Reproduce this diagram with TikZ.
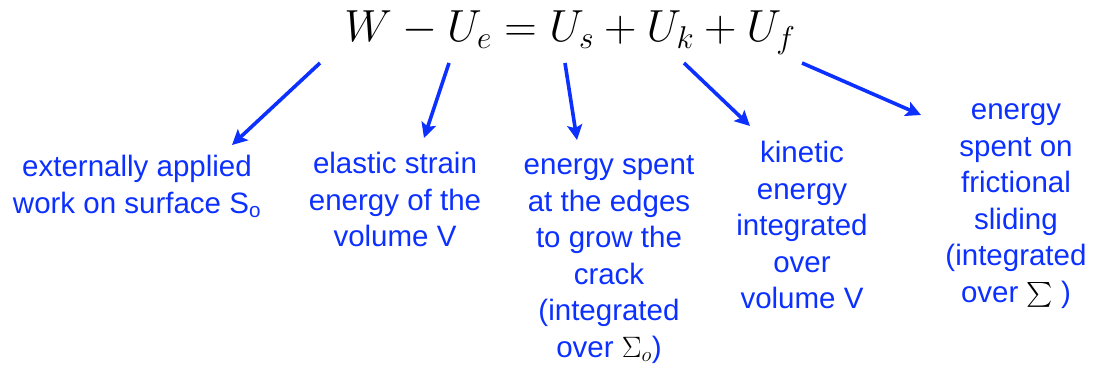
\documentclass[tikz,border=0pt]{standalone}
\usepackage{fix-cm}
\usepackage{exscale}
\usepackage{fontspec}
\setmainfont{Liberation Sans}
\usetikzlibrary{arrows.meta}
\definecolor{lblue}{RGB}{12,48,255}
\begin{document}
\begin{tikzpicture}[x=1pt,y=-1pt,
  lbl/.style={text=lblue, align=center, inner sep=0pt, anchor=north,
    font=\fontsize{29.5}{36.5}\selectfont},
  arr/.style={draw=lblue, line width=3.6pt,
    -{Stealth[length=15pt,width=15pt,inset=3pt]}}]
\useasboundingbox (0,0) rectangle (1093,366);
\node[inner sep=0pt, anchor=base] (eq) at (570,42)
  {\fontsize{45}{54}\selectfont $W-U_e=U_s+U_k+U_f$};
% label blocks (north = first baseline - strut height)
\node[lbl] (t1) at (137,151) {\strut externally applied\\work on surface S\textsubscript{o}};
\node[lbl] (t2) at (395,148) {\strut elastic strain\\energy of the\\volume V};
\node[lbl] (t3) at (609,149) {\strut energy spent\\at the edges\\to grow the\\crack\\(integrated\\over {\color{black}$\Sigma_o$})};
\node[lbl] (t4) at (802,137) {\strut kinetic\\energy\\integrated\\over\\volume V};
\node[lbl] (t5) at (1016,94) {\strut energy\\spent on\\frictional\\sliding\\(integrated\\over {\color{black}$\sum$} )};
% arrow ends
\coordinate (s1) at (320,63); \coordinate (e1) at (232,145);
\coordinate (s2) at (449,63); \coordinate (e2) at (424,138);
\coordinate (s3) at (565,63); \coordinate (e3) at (577,140);
\coordinate (s4) at (684,63); \coordinate (e4) at (750,126);
\coordinate (s5) at (802,63); \coordinate (e5) at (921,115);
\draw[arr] (s1) -- (e1);
\draw[arr] (s2) -- (e2);
\draw[arr] (s3) -- (e3);
\draw[arr] (s4) -- (e4);
\draw[arr] (s5) -- (e5);
\end{tikzpicture}
\end{document}
